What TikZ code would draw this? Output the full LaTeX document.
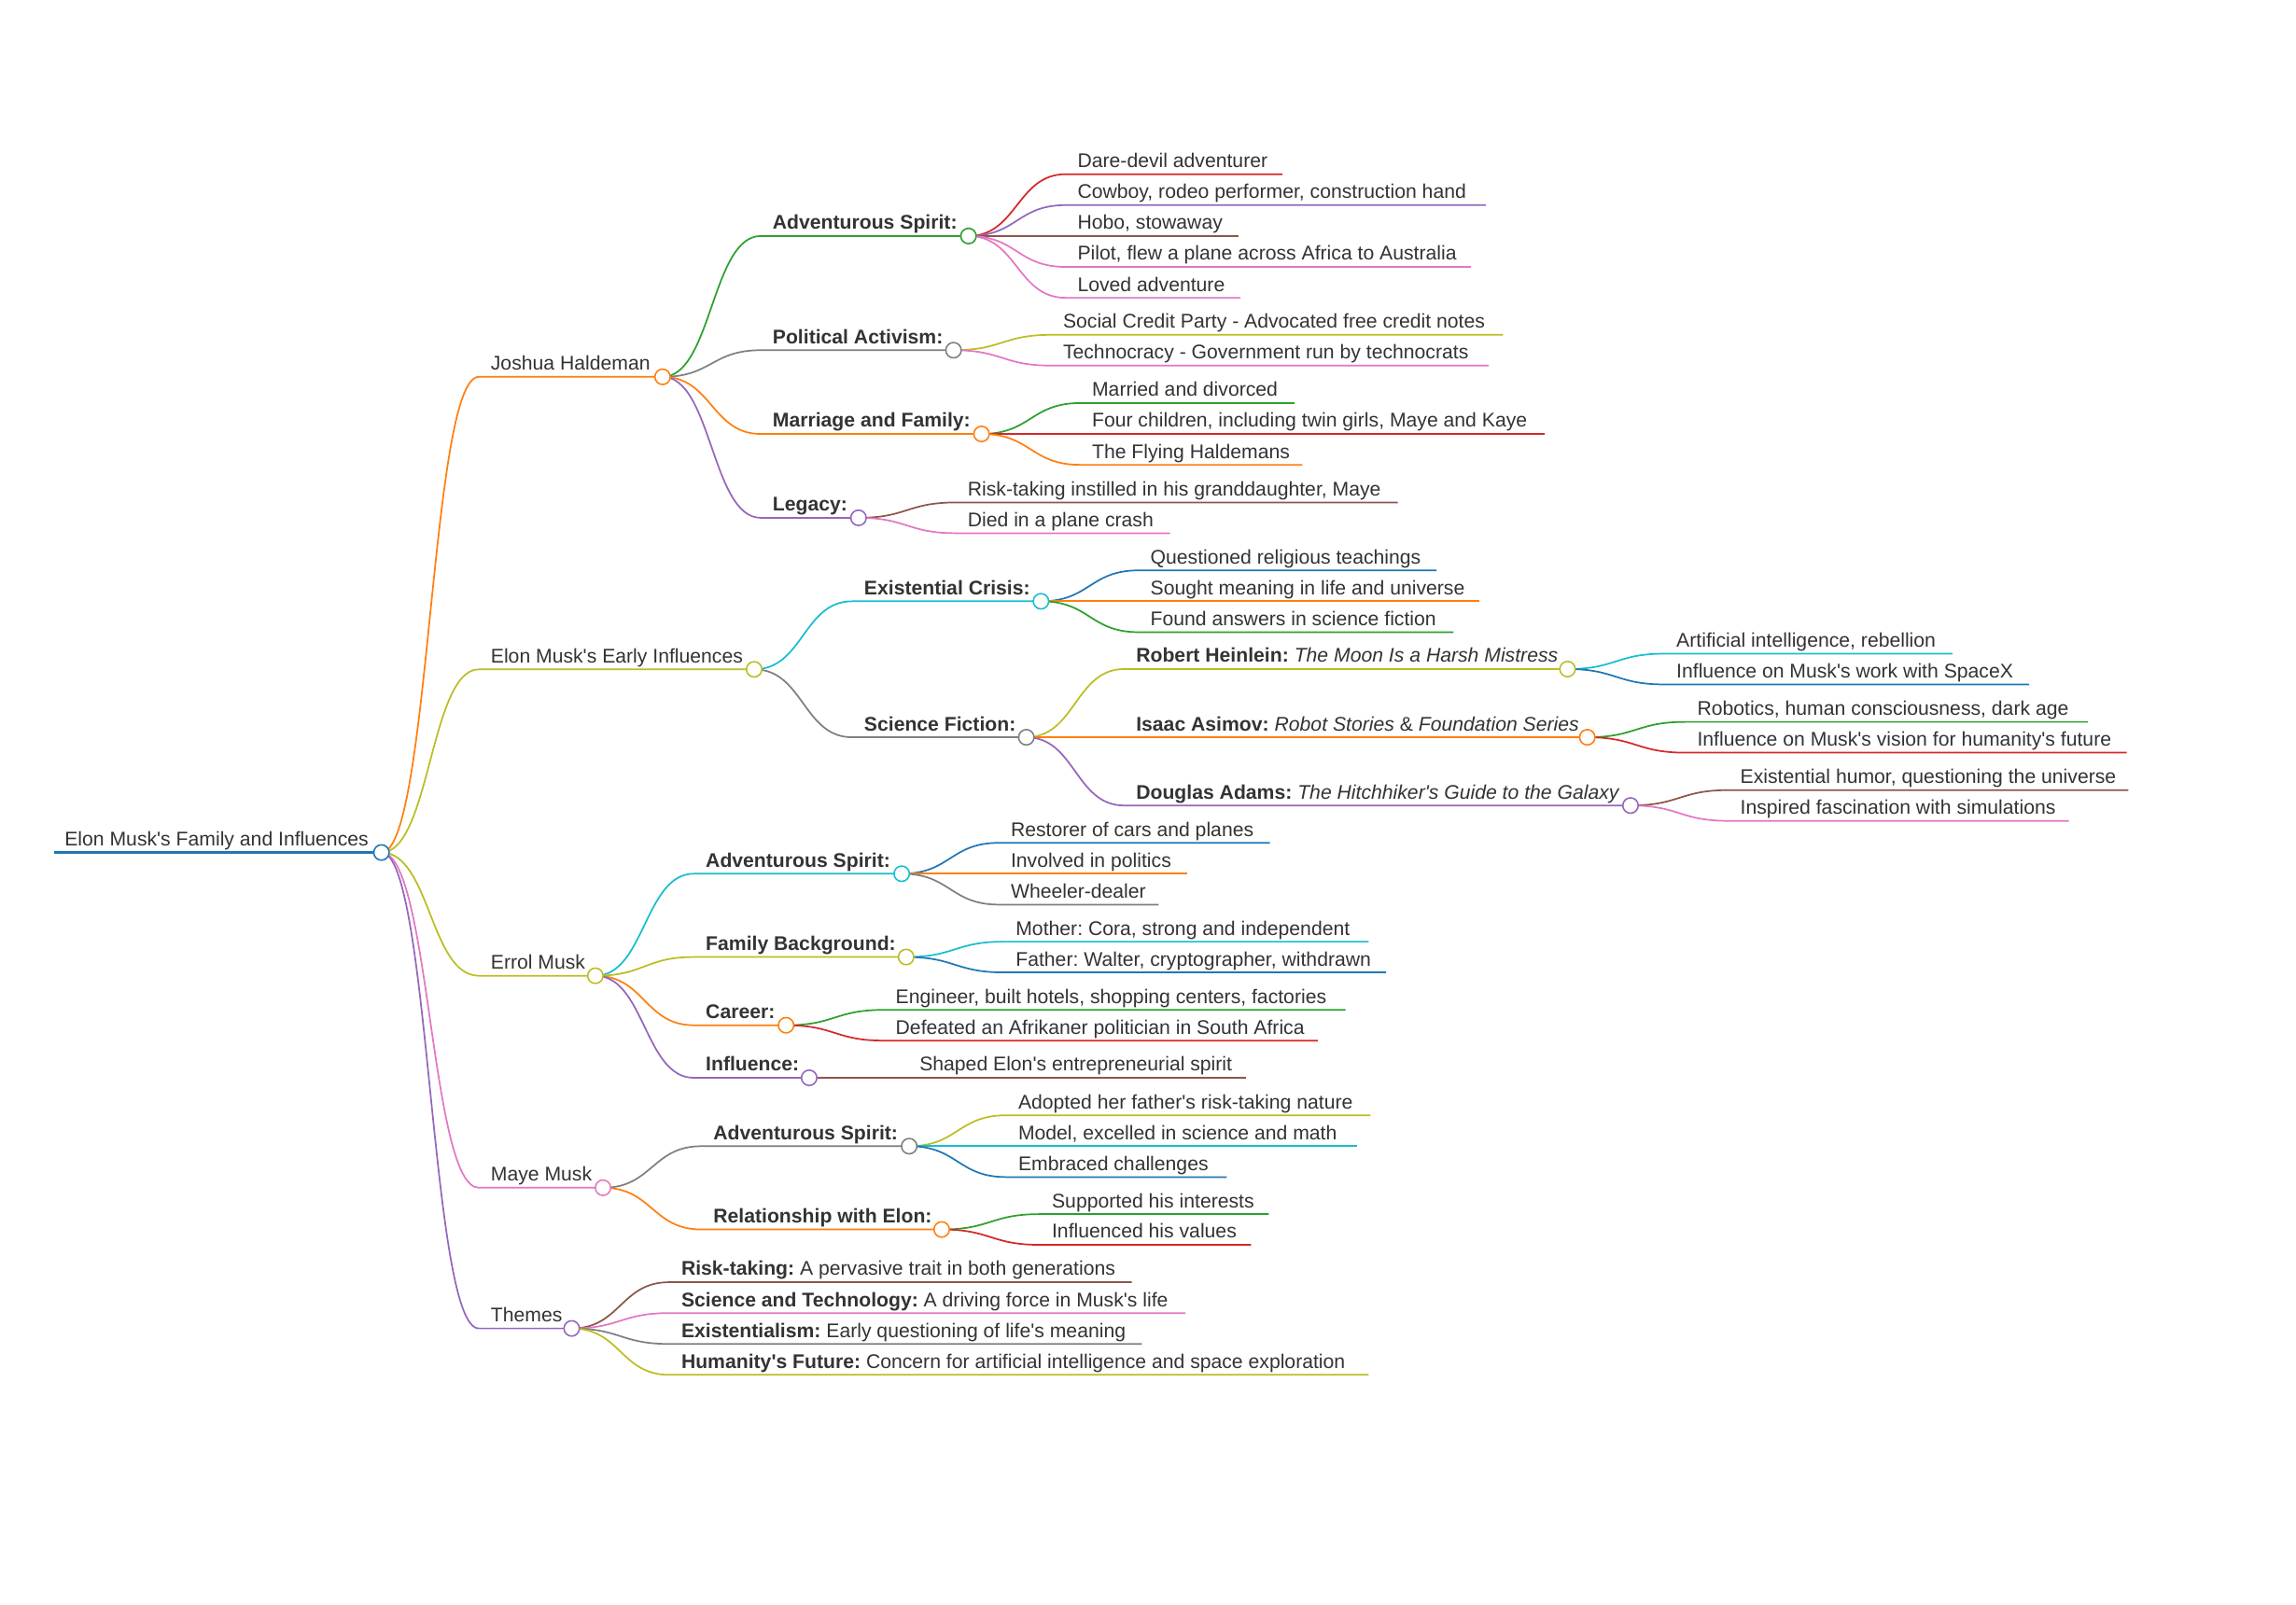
\documentclass[tikz,border=0pt]{standalone}
\usepackage{fontspec}
\setmainfont{Liberation Sans}
\usetikzlibrary{calc}
\frenchspacing
\newcommand\ap{\textquotesingle}
\definecolor{cblue}{HTML}{1F77B4}
\definecolor{corange}{HTML}{FF7F0E}
\definecolor{cgreen}{HTML}{2CA02C}
\definecolor{cred}{HTML}{D62728}
\definecolor{cpurple}{HTML}{9467BD}
\definecolor{cbrown}{HTML}{8C564B}
\definecolor{cpink}{HTML}{E377C2}
\definecolor{cgray}{HTML}{7F7F7F}
\definecolor{colive}{HTML}{BCBD22}
\definecolor{ccyan}{HTML}{17BECF}
\definecolor{ctext}{HTML}{333333}
\tikzset{
  mmlink/.style={line width=1.1pt},
  mmtxt/.style={inner sep=0pt, anchor=base west, text=ctext, font=\fontsize{13.5}{16}\selectfont},
  mmdot/.style={circle, draw, fill=white, line width=1pt, minimum size=10.5pt, inner sep=0pt},
}
% name, parent, colour, line y, text x, line end x, text
\newcommand\mmnode[7]{%
  \coordinate (#1-s) at (#5-8,#4);
  \coordinate (#1-e) at (#6,#4);
  \draw[mmlink,#3] let \p1=(#2-e), \p2=(#1-s) in (\p1) .. controls ({(\x1+\x2)/2},\y1) and ({(\x1+\x2)/2},\y2) .. (\p2) -- (#1-e);
  \node[mmtxt] (#1) at (#5,#4-4.5) {#7};
}
\newcommand\mmdot[2]{\node[mmdot,draw=#2] (#1-c) at (#1-e) {};}
\begin{document}
\begin{tikzpicture}[x=1pt,y=-1pt]
\fill[white] (0,0) rectangle (1568,1096);
\useasboundingbox (0,0) rectangle (1568,1096);
% root
\coordinate (root-s) at (37,582.3);
\coordinate (root-e) at (260.5,582.3);
\draw[line width=1.6pt,cblue] (root-s) -- (root-e);
\node[mmtxt] (root) at (44,582.3-4.5) {Elon Musk\ap s Family and Influences};
% level 2
\mmnode{J}{root}{corange}{257.4}{335}{452.5}{Joshua Haldeman}
\mmnode{E}{root}{colive}{457.2}{335}{515}{Elon Musk\ap s Early Influences}
\mmnode{R}{root}{colive}{666.5}{335}{406.6}{Errol Musk}
\mmnode{M}{root}{cpink}{811.3}{335}{411.8}{Maye Musk}
\mmnode{T}{root}{cpurple}{907.4}{335}{390.4}{Themes}
% Joshua
\mmnode{JA}{J}{cgreen}{161.2}{527.5}{661.4}{\textbf{Adventurous Spirit:}}
\mmnode{JP}{J}{cgray}{239.2}{527.5}{651.2}{\textbf{Political Activism:}}
\mmnode{JM}{J}{corange}{296.4}{527.5}{670.3}{\textbf{Marriage and Family:}}
\mmnode{JL}{J}{cpurple}{353.7}{527.5}{586.3}{\textbf{Legacy:}}
\mmnode{JA1}{JA}{cred}{119}{735.7}{875.8}{Dare-devil adventurer}
\mmnode{JA2}{JA}{cpurple}{140.1}{735.7}{1014.8}{Cowboy, rodeo performer, construction hand}
\mmnode{JA3}{JA}{cbrown}{161.2}{735.7}{845.5}{Hobo, stowaway}
\mmnode{JA4}{JA}{cpink}{182.3}{735.7}{1004.6}{Pilot, flew a plane across Africa to Australia}
\mmnode{JA5}{JA}{cpink}{203.4}{735.7}{847.2}{Loved adventure}
\mmnode{JP1}{JP}{colive}{228.7}{725.8}{1026.5}{Social Credit Party - Advocated free credit notes}
\mmnode{JP2}{JP}{cpink}{249.7}{725.8}{1016.6}{Technocracy - Government run by technocrats}
\mmnode{JM1}{JM}{cgreen}{275.3}{745.6}{884}{Married and divorced}
\mmnode{JM2}{JM}{cred}{296.4}{745.6}{1055}{Four children, including twin girls, Maye and Kaye}
\mmnode{JM3}{JM}{corange}{317.5}{745.6}{889.4}{The Flying Haldemans}
\mmnode{JL1}{JL}{cbrown}{343.2}{660.7}{954.5}{Risk-taking instilled in his granddaughter, Maye}
\mmnode{JL2}{JL}{cpink}{364.2}{660.7}{799}{Died in a plane crash}
% Early influences
\mmnode{EX}{E}{ccyan}{410.7}{590}{710.9}{\textbf{Existential Crisis:}}
\mmnode{ES}{E}{cgray}{503.6}{590}{700.9}{\textbf{Science Fiction:}}
\mmnode{EX1}{EX}{cblue}{389.6}{785.5}{981}{Questioned religious teachings}
\mmnode{EX2}{EX}{corange}{410.7}{785.5}{1010.2}{Sought meaning in life and universe}
\mmnode{EX3}{EX}{cgreen}{431.8}{785.5}{992.6}{Found answers in science fiction}
\mmnode{H}{ES}{colive}{457}{775.7}{1070.5}{\textbf{Robert Heinlein:} \textit{The Moon Is a Harsh Mistress}}
\mmnode{A}{ES}{corange}{503.6}{775.7}{1084}{\textbf{Isaac Asimov:} \textit{Robot Stories} \& \textit{Foundation Series}}
\mmnode{D}{ES}{cpurple}{550.2}{775.7}{1113.5}{\textbf{Douglas Adams:} \textit{The Hitchhiker\ap s Guide to the Galaxy}}
\mmnode{H1}{H}{ccyan}{446.5}{1144.7}{1333.3}{Artificial intelligence, rebellion}
\mmnode{H2}{H}{cblue}{467.5}{1144.7}{1385.8}{Influence on Musk\ap s work with SpaceX}
\mmnode{A1}{A}{cgreen}{493.1}{1158.9}{1425.8}{Robotics, human consciousness, dark age}
\mmnode{A2}{A}{cred}{514.1}{1158.9}{1452.4}{Influence on Musk\ap s vision for humanity\ap s future}
\mmnode{D1}{D}{cbrown}{539.7}{1188.3}{1453.5}{Existential humor, questioning the universe}
\mmnode{D2}{D}{cpink}{560.7}{1188.3}{1412.8}{Inspired fascination with simulations}
% Errol
\mmnode{RA}{R}{ccyan}{596.8}{481.8}{615.8}{\textbf{Adventurous Spirit:}}
\mmnode{RF}{R}{colive}{653.7}{481.8}{618.8}{\textbf{Family Background:}}
\mmnode{RC}{R}{corange}{700.3}{481.8}{536.8}{\textbf{Career:}}
\mmnode{RI}{R}{cpurple}{736.2}{481.8}{552.6}{\textbf{Influence:}}
\mmnode{RA1}{RA}{cblue}{575.7}{690.1}{867.2}{Restorer of cars and planes}
\mmnode{RA2}{RA}{corange}{596.8}{690.1}{810.9}{Involved in politics}
\mmnode{RA3}{RA}{cgray}{617.9}{690.1}{791.2}{Wheeler-dealer}
\mmnode{RF1}{RF}{ccyan}{643.2}{693.5}{934.6}{Mother: Cora, strong and independent}
\mmnode{RF2}{RF}{cblue}{664.2}{693.5}{946.6}{Father: Walter, cryptographer, withdrawn}
\mmnode{RC1}{RC}{cgreen}{689.8}{611.5}{918.8}{Engineer, built hotels, shopping centers, factories}
\mmnode{RC2}{RC}{cred}{710.8}{611.5}{900.1}{Defeated an Afrikaner politician in South Africa}
\mmnode{RI1}{RI}{cbrown}{736.2}{627.8}{851}{Shaped Elon\ap s entrepreneurial spirit}
% Maye
\mmnode{MA}{M}{cgray}{782.9}{487}{620.9}{\textbf{Adventurous Spirit:}}
\mmnode{MR}{M}{corange}{839.8}{487}{643.1}{\textbf{Relationship with Elon:}}
\mmnode{MA1}{MA}{colive}{761.8}{695.2}{935.9}{Adopted her father\ap s risk-taking nature}
\mmnode{MA2}{MA}{ccyan}{782.9}{695.2}{927}{Model, excelled in science and math}
\mmnode{MA3}{MA}{cblue}{804}{695.2}{837.7}{Embraced challenges}
\mmnode{MR1}{MR}{cgreen}{829.3}{718.2}{866.4}{Supported his interests}
\mmnode{MR2}{MR}{cred}{850.3}{718.2}{854.4}{Influenced his values}
% Themes
\mmnode{T1}{T}{cbrown}{875.8}{465.1}{772.9}{\textbf{Risk-taking:} A pervasive trait in both generations}
\mmnode{T2}{T}{cpink}{896.9}{465.1}{809.6}{\textbf{Science and Technology:} A driving force in Musk\ap s life}
\mmnode{T3}{T}{cgray}{918}{465.1}{779.7}{\textbf{Existentialism:} Early questioning of life\ap s meaning}
\mmnode{T4}{T}{colive}{939.1}{465.1}{934.6}{\textbf{Humanity\ap s Future:} Concern for artificial intelligence and space exploration}
% circles
\mmdot{root}{cblue}
\mmdot{J}{corange}\mmdot{E}{colive}\mmdot{R}{colive}\mmdot{M}{cpink}\mmdot{T}{cpurple}
\mmdot{JA}{cgreen}\mmdot{JP}{cgray}\mmdot{JM}{corange}\mmdot{JL}{cpurple}
\mmdot{EX}{ccyan}\mmdot{ES}{cgray}\mmdot{H}{colive}\mmdot{A}{corange}\mmdot{D}{cpurple}
\mmdot{RA}{ccyan}\mmdot{RF}{colive}\mmdot{RC}{corange}\mmdot{RI}{cpurple}
\mmdot{MA}{cgray}\mmdot{MR}{corange}
\end{tikzpicture}
\end{document}
